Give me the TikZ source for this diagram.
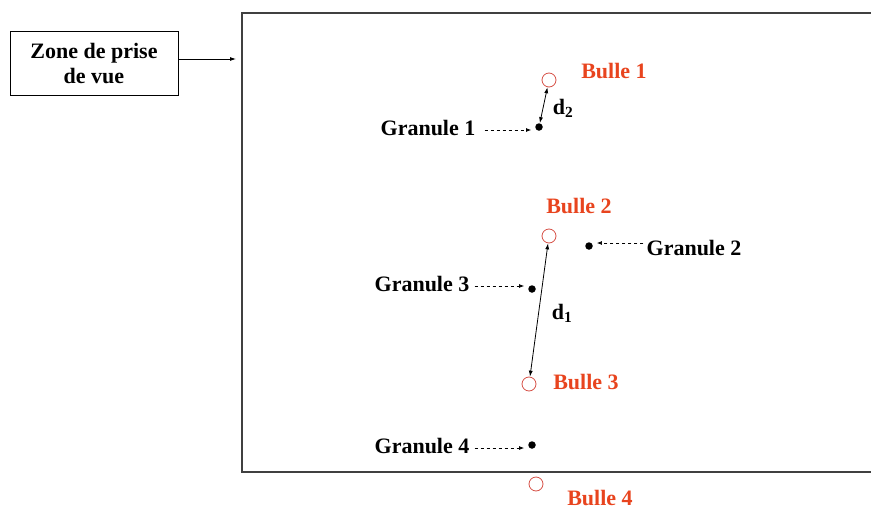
\documentclass[tikz,border=0pt]{standalone}
\usepackage{fontspec}
\setmainfont{Liberation Serif}
\usetikzlibrary{arrows.meta}
\definecolor{bred}{RGB}{232,68,30}
\definecolor{cred}{RGB}{214,80,70}
\tikzset{
  lbl/.style={font=\fontsize{22}{25}\selectfont\bfseries, inner sep=0pt, anchor=center},
  rlbl/.style={lbl, text=bred},
  bubble/.style={circle, draw=cred, line width=0.8pt, minimum size=14pt, inner sep=0pt},
  gran/.style={circle, fill=black, minimum size=7.5pt, inner sep=0pt},
  dasharr/.style={dash pattern=on 3.5pt off 2.5pt, -{Latex[length=5pt,width=4pt]}, line width=0.7pt},
  distarr/.style={{Latex[length=6pt,width=4pt]}-{Latex[length=6pt,width=4pt]}, line width=0.8pt},
}
\begin{document}
\begin{tikzpicture}[x=1pt,y=-1pt]
\useasboundingbox (0,0) rectangle (871,509);
% big frame (right edge outside)
\draw[line width=1.1pt, draw=black!75] (880,13) -- (242,13) -- (242,472) -- (880,472);
% zone box
\node[draw, line width=0.9pt, minimum width=168pt, minimum height=64pt, inner sep=0pt,
      align=center, font=\fontsize{22}{25}\selectfont\bfseries] (zone) at (94,63) {Zone de prise\\de vue};
\coordinate (zend) at (236,59);
\draw[-{Latex[length=6pt,width=4pt]}, line width=0.8pt] (zone.east |- zend) -- (zend);

% bubbles
\node[bubble] (b1) at (549,80) {};
\node[bubble] (b2) at (549,236) {};
\node[bubble] (b3) at (529,384) {};
\node[bubble] (b4) at (536,484) {};
\node[rlbl] (lb1) at (614,71) {Bulle 1};
\node[rlbl] (lb2) at (579,206) {Bulle 2};
\node[rlbl] (lb3) at (586,382) {Bulle 3};
\node[rlbl] (lb4) at (600,498) {Bulle 4};

% granules
\node[gran] (g1) at (539,127) {};
\node[gran] (g2) at (589,246) {};
\node[gran] (g3) at (532,289) {};
\node[gran] (g4) at (532,445) {};
\node[lbl] (lg1) at (428,128) {Granule 1};
\node[lbl] (lg2) at (694,248) {Granule 2};
\node[lbl] (lg3) at (422,284) {Granule 3};
\node[lbl] (lg4) at (422,446) {Granule 4};

% dashed pointers
\draw[dasharr] ([xshift=9pt]lg1.east |- 0,130) -- ([xshift=-4pt]g1.west |- 0,130);
\draw[dasharr] ([xshift=-3pt]lg2.west |- 0,243) -- ([xshift=4pt]g2.east |- 0,243);
\draw[dasharr] ([xshift=5pt]lg3.east |- 0,286) -- ([xshift=-4pt]g3.west |- 0,286);
\draw[dasharr] ([xshift=5pt]lg4.east |- 0,448) -- ([xshift=-4pt]g4.west |- 0,448);

% distances
\draw[distarr] (g1) -- (b1);
\draw[distarr] (b2) -- (b3);
\node[lbl] (d2) at (563,108) {d\textsubscript{2}};
\node[lbl] (d1) at (562,313) {d\textsubscript{1}};
\end{tikzpicture}
\end{document}
